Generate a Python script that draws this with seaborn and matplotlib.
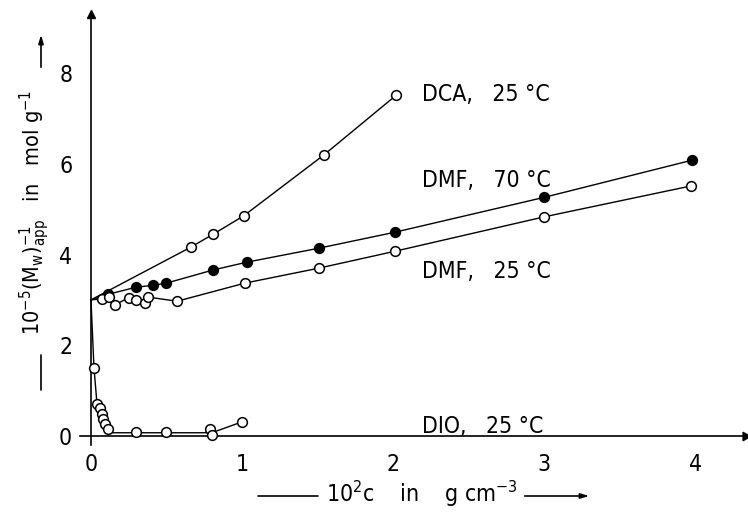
import matplotlib
matplotlib.use("Agg")
import matplotlib.pyplot as plt
from matplotlib.lines import Line2D
import seaborn as sns
import numpy as np

# ---- data ----
dca_x = [0.0, 0.66, 0.81, 1.01, 1.54, 2.02]
dca_y = [3.0, 4.16, 4.45, 4.85, 6.19, 7.51]

dmf70_x = [0.0, 0.11, 0.30, 0.41, 0.50, 0.81, 1.03, 1.51, 2.01, 3.00, 3.98]
dmf70_y = [3.0, 3.12, 3.28, 3.32, 3.37, 3.66, 3.83, 4.14, 4.49, 5.26, 6.08]

dmf25_x = [0.0, 0.07, 0.12, 0.16, 0.25, 0.30, 0.36, 0.38, 0.57, 1.02, 1.51, 2.01, 3.00, 3.97]
dmf25_y = [3.0, 3.02, 3.06, 2.89, 3.05, 3.00, 2.93, 3.06, 2.97, 3.37, 3.70, 4.07, 4.83, 5.51]

dio_x = [0.02, 0.04, 0.06, 0.07, 0.08, 0.09, 0.11, 0.30, 0.50, 0.79, 0.80, 1.00]
dio_y = [1.50, 0.70, 0.62, 0.48, 0.37, 0.26, 0.15, 0.09, 0.09, 0.15, 0.02, 0.31]
dio_line_x = [0.0, 0.02, 0.04, 0.11, 0.80, 1.00]
dio_line_y = [3.0, 1.50, 0.70, 0.07, 0.07, 0.31]

labels = ["DCA,   25 °C", "DMF,   70 °C", "DMF,   25 °C", "DIO,   25 °C"]
label_pos = [(2.19, 7.53), (2.19, 5.64), (2.19, 3.63), (2.19, 0.20)]

x_ticks = [0, 1, 2, 3, 4]
y_ticks = [0, 2, 4, 6, 8]
y_minor = [1, 3, 5, 7]

# ---- figure ----
sns.set_style("white")
plt.rcParams['font.family'] = ['DejaVu Sans']
plt.rcParams['font.stretch'] = 'condensed'
plt.rcParams['mathtext.fontset'] = 'dejavusans'
plt.rcParams['text.color'] = 'black'
plt.rcParams['xtick.color'] = 'black'
plt.rcParams['ytick.color'] = 'black'

W, H = 748, 516
fig = plt.figure(figsize=(W / 100, H / 100), dpi=100)
ax = fig.add_axes([80.4 / W, 0.1376, (745 - 80.4) / W, 0.835])
ax.set_xlim(-0.07, 4.33)
ax.set_ylim(-0.2, 9.3)

lw = 1.0
ms = 7
open_kw = dict(marker='o', s=ms**2, facecolor='white', edgecolor='black', linewidth=1.1, zorder=3)
fill_kw = dict(marker='o', s=ms**2, facecolor='black', edgecolor='black', linewidth=1.1, zorder=3)

# lines
sns.lineplot(x=dca_x, y=dca_y, ax=ax, color='black', lw=lw, sort=False, estimator=None)
sns.lineplot(x=dmf70_x, y=dmf70_y, ax=ax, color='black', lw=lw, sort=False, estimator=None)
sns.lineplot(x=dmf25_x, y=dmf25_y, ax=ax, color='black', lw=lw, sort=False, estimator=None)
sns.lineplot(x=dio_line_x, y=dio_line_y, ax=ax, color='black', lw=lw, sort=False, estimator=None)

# markers
sns.scatterplot(x=dca_x[1:], y=dca_y[1:], ax=ax, **open_kw)
sns.scatterplot(x=dmf70_x[1:], y=dmf70_y[1:], ax=ax, **fill_kw)
sns.scatterplot(x=dmf25_x[1:], y=dmf25_y[1:], ax=ax, **open_kw)
sns.scatterplot(x=dio_x, y=dio_y, ax=ax, **open_kw)

# series labels
for txt, (lx, ly) in zip(labels, label_pos):
    ax.text(lx, ly, txt, fontsize=16.5, va='center', ha='left', color='black')

# axes styling
for s in ['top', 'right']:
    ax.spines[s].set_visible(False)
ax.spines['left'].set_position(('data', 0))
ax.spines['bottom'].set_position(('data', 0))
for s in ['left', 'bottom']:
    ax.spines[s].set_linewidth(1.2)
    ax.spines[s].set_color('black')
ax.plot(1, 0, marker=(3, 0, -90), color='black', ms=7, transform=ax.get_yaxis_transform(), clip_on=False)
ax.plot(0, 1, marker='^', color='black', ms=6, transform=ax.get_xaxis_transform(), clip_on=False)

ax.set_xticks(x_ticks)
ax.set_xticklabels([str(t) for t in x_ticks])
ax.set_yticks(y_ticks)
ax.set_yticklabels([str(t) for t in y_ticks])
ax.set_yticks(y_minor, minor=True)
ax.set_xticks([], minor=True)
ax.tick_params(axis='both', which='both', direction='inout', length=10, width=1.2, labelsize=16.5, color='black')
ax.tick_params(axis='y', which='both', direction='out', length=5, pad=8.5)
ax.tick_params(axis='x', pad=7)


def fx(px):
    return px / W


def fy(py):
    return 1 - py / H


# y-axis title with its leader lines (arrow at top)
ylab_x = 35
fig.text(fx(ylab_x), fy(212),
         r'$10^{-5}(\mathrm{M}_\mathrm{w})^{-1}_\mathrm{app}$   in   mol g$^{-1}$',
         rotation=90, ha='center', va='center', fontsize=15.5)
line_x = 41
fig.add_artist(Line2D([fx(line_x), fx(line_x)], [fy(355), fy(390)], color='black', lw=1.2))
ax.annotate('', xy=(fx(line_x), fy(32)), xytext=(fx(line_x), fy(70)),
            xycoords='figure fraction', textcoords='figure fraction',
            arrowprops=dict(arrowstyle='-|>,head_length=0.5,head_width=0.15', color='black', lw=1.2))

# x-axis title with its leader lines (arrow at right)
xlab_y = 494
fig.text(fx(422), fy(xlab_y), r'$10^2\mathrm{c}$    in    g cm$^{-3}$',
         ha='center', va='center', fontsize=16.5)
fig.add_artist(Line2D([fx(258), fx(318)], [fy(xlab_y + 2), fy(xlab_y + 2)], color='black', lw=1.2))
ax.annotate('', xy=(fx(592), fy(xlab_y + 2)), xytext=(fx(522), fy(xlab_y + 2)),
            xycoords='figure fraction', textcoords='figure fraction',
            arrowprops=dict(arrowstyle='-|>,head_length=0.5,head_width=0.15', color='black', lw=1.2))

fig.savefig('out.png', dpi=100)
